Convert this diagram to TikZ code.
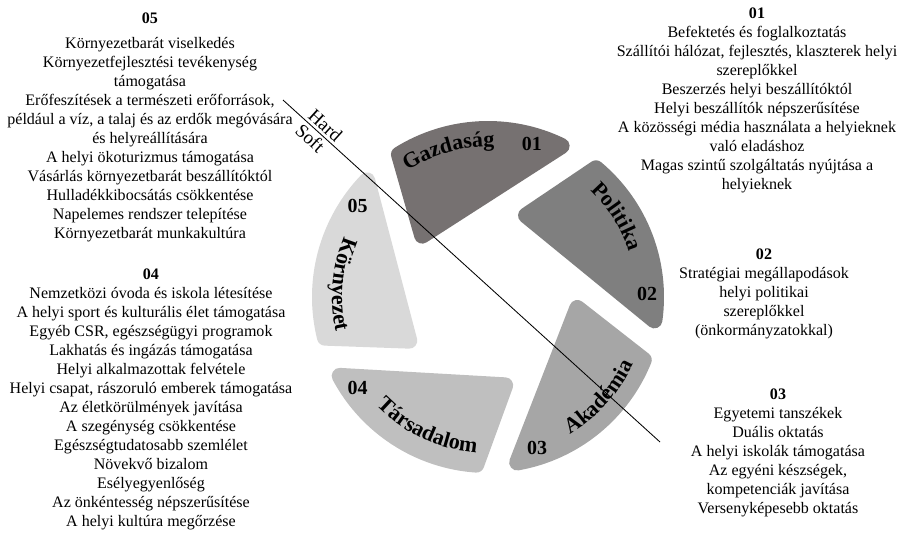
\documentclass[tikz,border=0pt]{standalone}
\usepackage{fontspec}
\setmainfont{Liberation Serif}
\usetikzlibrary{decorations.text}

\definecolor{gazd}{HTML}{767171}
\definecolor{poli}{HTML}{7F7F7F}
\definecolor{akad}{HTML}{A6A6A6}
\definecolor{tars}{HTML}{BFBFBF}
\definecolor{korn}{HTML}{D9D9D9}

\newcommand{\bladefont}{\fontsize{15.6}{18}\selectfont\bfseries}
\newcommand{\numfont}{\fontsize{14.2}{17}\selectfont\bfseries}

\begin{document}
\begin{tikzpicture}[
	blade/.style={fill=#1, draw=#1, line width=.4cm, line join=round},
	listtext/.style={align=center, inner sep=0pt, anchor=north, font=\fontsize{11.4}{13.5}\selectfont},
	numlabel/.style={font=\numfont, inner sep=0pt},
	curved/.style={decorate, decoration={text along path, text align=center, text={|\bladefont|#1}}}
	]
			\useasboundingbox (-12.2,-6.3) rectangle (10.35,7.425);
			
			\filldraw[blade=gazd] (137:2.25) -- (64:4.2) arc[start angle=64, end angle=122, radius=4.2] -- cycle;
			\filldraw[blade=poli] (65:2.25) -- (-8:4.2) arc[start angle=-8, end angle=50, radius=4.2] -- cycle;
			\filldraw[blade=akad] (-7:2.25) -- (-80:4.2) arc[start angle=-80, end angle=-22, radius=4.2] -- cycle;
			\filldraw[blade=tars] (281:2.25) -- (208:4.2) arc[start angle=208, end angle=266, radius=4.2] -- cycle;
			\filldraw[blade=korn] (209:2.25) -- (136:4.2) arc[start angle=136, end angle=194, radius=4.2] -- cycle;
			
			\path[curved=Gazdaság] (135:3.75) arc[start angle=135, end angle=75, radius=3.75];
			\path[curved=Politika] (62:3.7) arc[start angle=62, end angle=2, radius=3.7];
			\path[curved=Akadémia] (-72:4) arc[start angle=-72, end angle=-12, radius=4];
			\path[curved=Társadalom] (215:3.9) arc[start angle=215, end angle=275, radius=3.9];
			\path[curved=Környezet] (145:3.9) arc[start angle=145, end angle=205, radius=3.9];
			
			\node[numlabel] (n1) at (74:3.98) {01};
			\node[numlabel] (n2) at (1:3.98) {02};
			\node[numlabel] (n3) at (-72:3.98) {03};
			\node[numlabel] (n4) at (215:3.98) {04};
			\node[numlabel] (n5) at (145:3.98) {05};
			
			\node[listtext] (t1) at (6.725,7.225) {\textbf{01}\\Befektetés és foglalkoztatás\\Szállítói hálózat, fejlesztés, klaszterek helyi\\szereplőkkel\\Beszerzés helyi beszállítóktól\\Helyi beszállítók népszerűsítése\\A közösségi média használata a helyieknek\\való eladáshoz\\Magas szintű szolgáltatás nyújtása a\\helyieknek};
			\node[listtext] (t2) at (6.9,1.2) {\textbf{02}\\Stratégiai megállapodások\\helyi politikai\\szereplőkkel\\(önkormányzatokkal)};
			\node[listtext] (t3) at (7.25,-2.3) {\textbf{03}\\Egyetemi tanszékek\\Duális oktatás\\A helyi iskolák támogatása\\Az egyéni készségek,\\kompetenciák javítása\\Versenyképesebb oktatás};
			\node[listtext] (t4) at (-8.425,0.7) {\textbf{04}\\Nemzetközi óvoda és iskola létesítése\\A helyi sport és kulturális élet támogatása\\Egyéb CSR, egészségügyi programok\\Lakhatás és ingázás támogatása\\Helyi alkalmazottak felvétele\\Helyi csapat, rászoruló emberek támogatása\\Az életkörülmények javítása\\A szegénység csökkentése\\Egészségtudatosabb szemlélet\\Növekvő bizalom\\Esélyegyenlőség\\Az önkéntesség népszerűsítése\\A helyi kultúra megőrzése};
			\node[listtext] (t5) at (-8.45,7.1) {\textbf{05}\\[4pt]Környezetbarát viselkedés\\Környezetfejlesztési tevékenység\\támogatása\\Erőfeszítések a természeti erőforrások,\\például a víz, a talaj és az erdők megóvására\\és helyreállítására\\A helyi ökoturizmus támogatása\\Vásárlás környezetbarát beszállítóktól\\Hulladékkibocsátás csökkentése\\Napelemes rendszer telepítése\\Környezetbarát munkakultúra};
			
			\coordinate (h1) at (-5.125,4.925);
			\coordinate (h2) at (4.3,-3.625);
			\draw[line width=.6pt] (h1) -- (h2) node[pos=.095, sloped, above, inner sep=2pt, font=\fontsize{13.5}{15}\selectfont] (hard) {Hard} node[pos=.09, sloped, below, inner sep=2pt, font=\fontsize{13.5}{15}\selectfont] (soft) {Soft};
\end{tikzpicture}
\end{document}
